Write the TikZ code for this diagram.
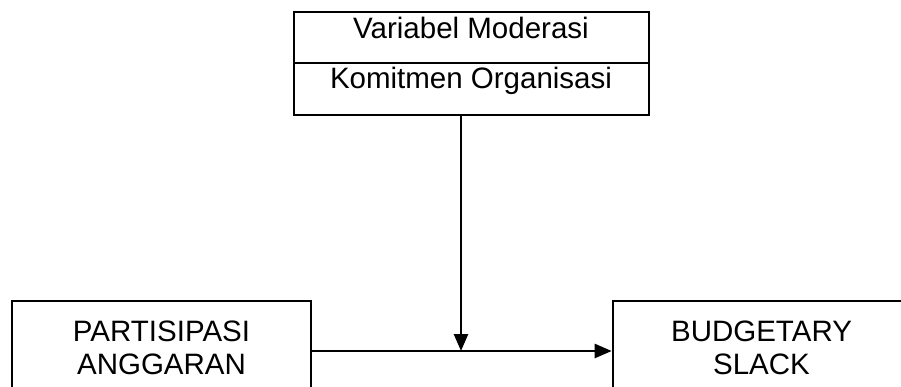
\documentclass[tikz,border=0pt]{standalone}
\usepackage{fontspec}
\setmainfont{Liberation Sans}
\usetikzlibrary{arrows.meta}
\begin{document}
\begin{tikzpicture}[x=1pt,y=-1pt,
  box/.style={draw,line width=2.6pt,rectangle,inner sep=0pt},
  lbl/.style={anchor=base,inner sep=0pt,font=\fontsize{29.5}{33}\selectfont},
  conn/.style={line width=2.6pt,-{Triangle[length=17pt,width=14pt]}}]
\useasboundingbox (0,0) rectangle (901,387);
\clip (0,0) rectangle (901,387);
\node[box,minimum width=355pt,minimum height=51pt] (mod) at (471.5,37.5) {};
\node[box,minimum width=355pt,minimum height=52pt] (kom) at (471.5,89) {};
\node[box,minimum width=299pt,minimum height=120pt] (part) at (161.5,361) {};
\node[box,minimum width=300pt,minimum height=120pt] (budget) at (763,361) {};
\node[lbl] (tmod) at (471,39) {Variabel Moderasi};
\node[lbl] (tkom) at (471,88.5) {Komitmen Organisasi};
\node[lbl] (tpart1) at (161.5,341) {PARTISIPASI};
\node[lbl] (tpart2) at (161.5,374) {ANGGARAN};
\node[lbl] (tbud1) at (761.5,341) {BUDGETARY};
\node[lbl] (tbud2) at (761.5,374) {SLACK};
\coordinate (join) at (461,351);
\draw[conn] (join |- kom.south) -- (join);
\draw[conn] (part.east |- join) -- (budget.west |- join);
\end{tikzpicture}
\end{document}
